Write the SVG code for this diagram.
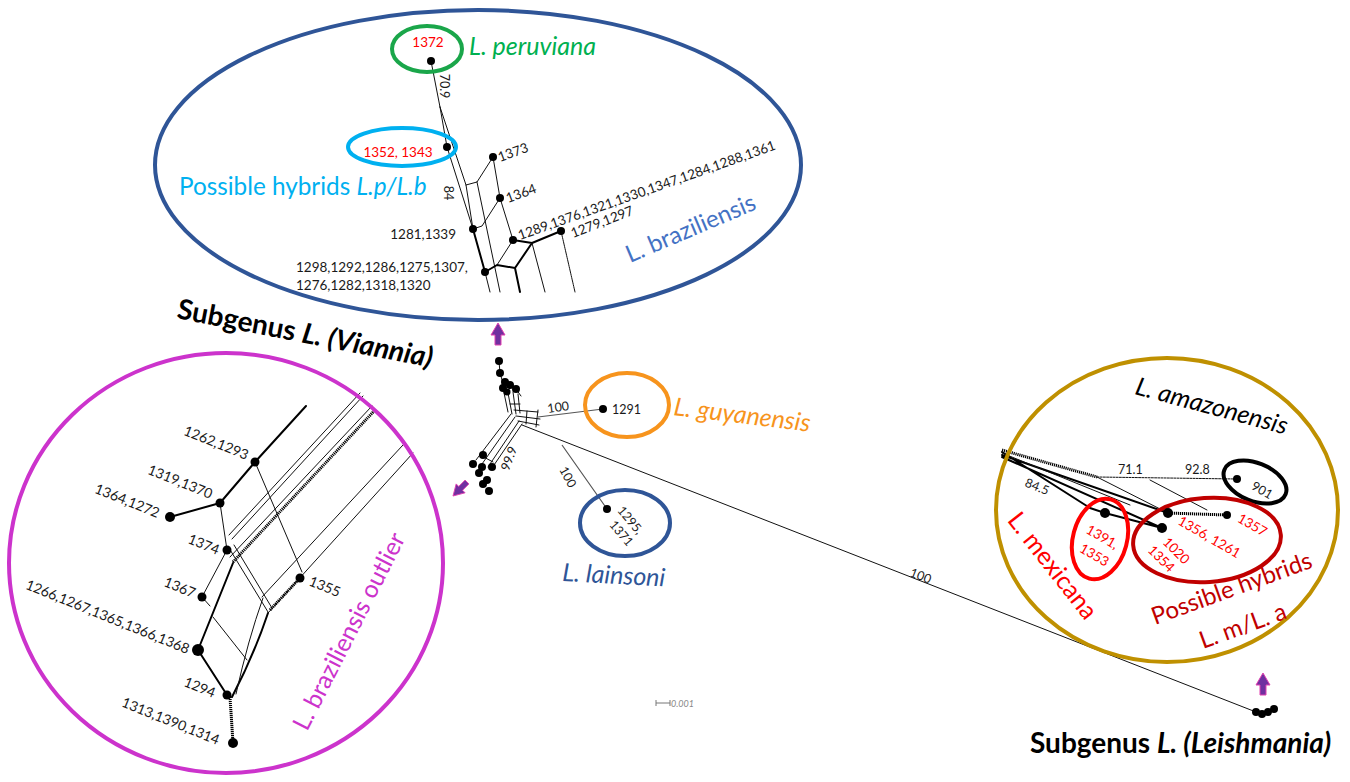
<svg xmlns="http://www.w3.org/2000/svg" width="1350" height="782" viewBox="0 0 1350 782">
<defs>
<style>
text{font-family:Lato,"Open Sans","Liberation Sans",sans-serif}
.n{font-size:13.5px;fill:#1a1a1a}
.nl{font-size:14px;fill:#1a1a1a}
.r{font-size:13.5px;fill:#ff0000}
.sm{font-size:12.5px;fill:#1a1a1a}
.big{font-size:25px}
.it{font-style:italic}
.bold{font-size:28px;font-weight:bold;fill:#000}
.e{fill:none;stroke:#111;stroke-width:1;stroke-linecap:round;stroke-linejoin:round}
.t{fill:none;stroke:#000;stroke-width:2;stroke-linecap:round;stroke-linejoin:round}
.h{fill:none;stroke:#000;stroke-width:3;stroke-dasharray:1.2 0.8}
.g{fill:none;stroke:#555;stroke-width:1.2}
.ring{fill:none;stroke-width:4}
.dot{fill:#000}
.arr{fill:#7030a0;stroke:#e040b0;stroke-width:1}
</style>
<polygon id="arrow" points="-3,11 3,11 3,1 7,1 0,-11 -7,1 -3,1"/>
</defs>
<rect width="1350" height="782" fill="#fff"/>

<g id="connectors">
  <!-- top (Viannia inset) network -->
  <path class="e" d="M431,61 L440,107 M440,107 L447,147 L473,229 M440,107 L466,185 L473,229 M466,185 L477,182 L493,157 M477,182 L500,292 M493,157 L500,198 L513,240 M500,198 L482,226 L473,229 M497,265 L513,240 M485,272 L490,292 M532,243 L545,292"/>
  <path class="t" d="M473,229 L485,272 L497,265 L515,268 L532,243 L561,231 M532,243 L513,240 M515,268 L520,292"/>
  <path class="e" stroke-width="2" d="M561,231 L575,292" style="stroke-dasharray:1.5 0.8"/>
  <!-- central network -->
  <path class="e" d="M499,361 L500,373 L503,383 L507,392 M505,382 L510,385 L516,389 M503,388 L508,412 M508,393 L512,414 M513,392 L516,414 M518,394 L520,413 M516,389 L521,396 M510,404 L520,404"/>
  <path class="e" d="M514,410 L538,412 M516,416 L540,419 M518,421 L539,425 M538,410 L536,427 M527,411 L526,424"/>
  <path class="e" d="M511,414 L476,460 M515,417 L482,464 M519,421 L488,467 M522,424 L492,468 M480,455 L493,462"/>
  <path class="e" stroke-width="1.6" d="M522,425 L1256,712"/>
  <path class="g" d="M538,417 L603,409 M562,445 L607,509"/>
  <!-- right (Leishmania inset) network -->
  <path class="h" d="M1002,450 L1097,477"/>
  <path class="t" stroke-width="1.6" d="M1002,452 L1090,508 L1105,513 M1002,455 L1168,513 M1002,457 L1162,528 M1105,513 L1162,528"/>
  <path class="e" d="M1097,477 L1168,513 M1150,480 L1207,510 M1002,453 L1130,505"/>
  <path class="e" d="M1097,477 L1237,479" style="stroke-dasharray:2 1.2"/>
  <path class="h" stroke-width="2.5" d="M1168,513 L1227,515"/>
  <!-- left (outlier inset) network -->
  <path class="t" d="M306,406 L255,462 L220,503 L170,517"/>
  <path class="e" stroke-width="1.3" d="M220,503 L227,550"/>
  <path class="e" stroke-width="0.9" d="M255,462 L302,572"/>
  <path class="e" d="M229,535 L360,393 M232,539 L363,396"/>
  <path class="h" d="M233,562 L375,410"/>
  <path class="e" d="M230,557 L372,406"/>
  <path class="e" stroke-width="1.3" d="M229,548 L268,612 M234,545 L272,608"/>
  <path class="e" d="M262,597 L403,445"/>
  <path class="e" stroke-width="1.8" d="M268,613 L413,453"/>
  <path class="h" d="M270,610 L300,578"/>
  <path class="t" stroke-width="2.2" d="M268,613 Q254,655 232,697"/>
  <path class="e" d="M263,598 Q248,640 236,694 M213,617 L247,660"/>
  <path class="t" stroke-width="3" d="M233,563 L198,650"/>
  <path class="e" d="M227,550 L202,597 L210,606"/>
  <path class="t" d="M198,650 L227,695"/>
  <path class="h" stroke-width="2.5" d="M230,697 L233,743"/>
</g>

<g id="viannia-inset">
  <ellipse class="ring" cx="478" cy="165" rx="323" ry="155" stroke="#2f5597"/>
  <g id="node-1372">
    <ellipse class="ring" cx="427" cy="49" rx="35" ry="23" stroke="#1aa64a" stroke-width="3.5"/>
    <text class="r" x="428" y="47" text-anchor="middle">1372</text>
    <circle class="dot" cx="431" cy="61" r="4"/>
    <text class="big it" x="469" y="55" fill="#00b050">L. peruviana</text>
  </g>
  <g id="node-1352">
    <ellipse class="ring" cx="402" cy="147" rx="54" ry="19" stroke="#00b0f0" stroke-width="3.5"/>
    <text class="r" x="398" y="157" text-anchor="middle">1352, 1343</text>
    <circle class="dot" cx="447" cy="147" r="4"/>
    <text x="179" y="195" font-size="24.3" fill="#00b0f0">Possible hybrids <tspan class="it">L.p/L.b</tspan></text>
  </g>
  <text class="sm" transform="translate(440,86) rotate(90)" text-anchor="middle">70.9</text>
  <text class="sm" transform="translate(444,193) rotate(90)" text-anchor="middle">84</text>
  <g id="node-1373"><circle class="dot" cx="493" cy="157" r="4"/><text class="n" transform="translate(500,162) rotate(-20)">1373</text></g>
  <g id="node-1364"><circle class="dot" cx="500" cy="198" r="4"/><text class="n" transform="translate(508,203) rotate(-20)">1364</text></g>
  <g id="node-1281"><circle class="dot" cx="473" cy="229" r="4"/><text class="n" x="456" y="239" text-anchor="end">1281,1339</text></g>
  <g id="node-1289"><circle class="dot" cx="513" cy="240" r="4"/><text class="n" transform="translate(520,240) rotate(-19.5)">1289,1376,1321,1330,1347,1284,1288,1361</text></g>
  <g id="node-1279"><circle class="dot" cx="561" cy="231" r="4"/><text class="n" transform="translate(573,238) rotate(-21)">1279,1297</text></g>
  <g id="node-1298"><circle class="dot" cx="485" cy="272" r="4"/>
    <text class="n" x="296" y="272">1298,1292,1286,1275,1307,</text>
    <text class="n" x="296" y="290">1276,1282,1318,1320</text></g>
  <text transform="translate(630,263) rotate(-23)" font-size="24" fill="#4472c4">L. braziliensis</text>
</g>

<g id="center-network">
  <g fill="#000">
    <circle cx="499" cy="361" r="4"/><circle cx="500" cy="373" r="4"/><circle cx="505" cy="382" r="4"/>
    <circle cx="503" cy="388" r="4"/><circle cx="510" cy="385" r="4"/><circle cx="516" cy="389" r="4"/>
    <circle cx="507" cy="392" r="3.5"/>
    <circle cx="483" cy="455" r="4"/><circle cx="473" cy="464" r="4"/><circle cx="482" cy="467" r="4"/>
    <circle cx="492" cy="467" r="4"/><circle cx="479" cy="473" r="4"/><circle cx="487" cy="480" r="4"/>
    <circle cx="483" cy="484" r="4"/><circle cx="489" cy="491" r="4"/>
  </g>
  <text class="sm" transform="translate(513,460) rotate(-70)" text-anchor="middle">99.9</text>
  <text class="sm" transform="translate(909,576) rotate(21)">100</text>
  <use href="#arrow" class="arr" transform="translate(498,334)"/>
  <use href="#arrow" class="arr" transform="translate(460,489) rotate(-135) scale(0.9)"/>
</g>

<g id="node-1291">
  <ellipse class="ring" cx="627" cy="405" rx="42" ry="32" stroke="#f7941d" stroke-width="3.5"/>
  <circle class="dot" cx="603" cy="409" r="4"/>
  <text class="sm" x="612" y="414">1291</text>
  <text class="sm" transform="translate(548,413) rotate(-8)">100</text>
  <text class="big it" transform="translate(673,415) rotate(7)" fill="#f7941d">L. guyanensis</text>
</g>

<g id="node-1295">
  <ellipse class="ring" cx="625" cy="523" rx="45" ry="33" stroke="#2f5597" stroke-width="2.5"/>
  <circle class="dot" cx="607" cy="509" r="4"/>
  <text class="sm" transform="translate(627,523) rotate(50)" text-anchor="middle">1295,</text>
  <text class="sm" transform="translate(618,536) rotate(50)" text-anchor="middle">1371</text>
  <text class="sm" transform="translate(564,479) rotate(62)" text-anchor="middle">100</text>
  <text class="big it" transform="translate(562,581) rotate(3)" fill="#2f5597">L. lainsoni</text>
</g>

<g id="outlier-inset">
  <ellipse class="ring" cx="226" cy="563" rx="217" ry="210" stroke="#cc33cc"/>
  <g fill="#000">
    <circle cx="255" cy="462" r="4.5"/><circle cx="220" cy="503" r="4.5"/><circle cx="170" cy="517" r="5"/>
    <circle cx="227" cy="550" r="4.5"/><circle cx="202" cy="597" r="4.5"/><circle cx="198" cy="650" r="6"/>
    <circle cx="227" cy="695" r="4.5"/><circle cx="233" cy="743" r="5"/><circle cx="300" cy="578" r="4.5"/>
  </g>
  <text class="nl" transform="translate(246,460) rotate(22)" text-anchor="end">1262,1293</text>
  <text class="nl" transform="translate(210,499) rotate(22)" text-anchor="end">1319,1370</text>
  <text class="nl" transform="translate(157,518) rotate(22)" text-anchor="end">1364,1272</text>
  <text class="nl" transform="translate(217,555) rotate(22)" text-anchor="end">1374</text>
  <text class="nl" transform="translate(193,598) rotate(22)" text-anchor="end">1367</text>
  <text class="nl" transform="translate(187,654) rotate(22)" text-anchor="end">1266,1267,1365,1366,1368</text>
  <text class="nl" transform="translate(213,698) rotate(22)" text-anchor="end">1294</text>
  <text class="nl" transform="translate(217,745) rotate(22)" text-anchor="end">1313,1390,1314</text>
  <text class="nl" transform="translate(308,585) rotate(22)">1355</text>
  <text transform="translate(307,732) rotate(-63)" font-size="24.5" fill="#cc33cc">L. braziliensis outlier</text>
</g>

<g id="leishmania-inset">
  <ellipse class="ring" cx="1167" cy="510" rx="171" ry="152" stroke="#bf9000"/>
  <text class="big it" transform="translate(1134,394) rotate(15)" fill="#000">L. amazonensis</text>
  <text class="sm" x="1118" y="474">71.1</text>
  <text class="sm" x="1185" y="474">92.8</text>
  <text class="sm" transform="translate(1024,486) rotate(22)">84.5</text>
  <g id="node-901">
    <ellipse class="ring" cx="0" cy="0" rx="33" ry="19" stroke="#000" stroke-width="3" transform="translate(1255,482) rotate(22)"/>
    <circle class="dot" cx="1237" cy="479" r="4"/>
    <text class="sm" transform="translate(1260,494) rotate(30)" text-anchor="middle">901</text>
  </g>
  <g id="node-1391">
    <ellipse class="ring" cx="0" cy="0" rx="27" ry="41" stroke="#ff0000" stroke-width="3" transform="translate(1100,539) rotate(15)"/>
    <circle class="dot" cx="1105" cy="513" r="5"/>
    <text class="r" transform="translate(1100,541) rotate(30)" text-anchor="middle">1391,</text>
    <text class="r" transform="translate(1092,559) rotate(30)" text-anchor="middle">1353</text>
    <text transform="translate(1046,571) rotate(52)" text-anchor="middle" font-size="25" fill="#ff0000">L. mexicana</text>
  </g>
  <g id="node-hybrids">
    <ellipse class="ring" cx="0" cy="0" rx="74" ry="42" stroke="#c00000" stroke-width="3" transform="translate(1207,540) rotate(-4)"/>
    <circle class="dot" cx="1168" cy="513" r="5"/>
    <circle class="dot" cx="1162" cy="528" r="5"/>
    <circle class="dot" cx="1227" cy="515" r="4"/>
    <text class="r" transform="translate(1207,541) rotate(30)" text-anchor="middle">1356, 1261</text>
    <text class="r" transform="translate(1250,529) rotate(30)" text-anchor="middle">1357</text>
    <text class="r" transform="translate(1173,554) rotate(45)" text-anchor="middle">1020</text>
    <text class="r" transform="translate(1158,562) rotate(45)" text-anchor="middle">1354</text>
    <text transform="translate(1155,625) rotate(-20)" font-size="24" fill="#c00000">Possible hybrids</text>
    <text transform="translate(1203,649) rotate(-20)" font-size="24" fill="#c00000">L. m/L. a</text>
  </g>
  <use href="#arrow" class="arr" transform="translate(1263,684)"/>
  <g fill="#000"><circle cx="1256" cy="712" r="4"/><circle cx="1262" cy="714" r="4"/><circle cx="1268" cy="712" r="4"/><circle cx="1274" cy="709" r="4"/></g>
</g>

<g id="labels">
  <text class="bold" transform="translate(176,318) rotate(11)" font-size="26.5">Subgenus <tspan class="it">L. (Viannia)</tspan></text>
  <text class="bold" x="1030" y="753">Subgenus <tspan class="it">L. (Leishmania)</tspan></text>
  <path d="M656,700 V706 M656,703 H670 M670,700 V706" stroke="#777" stroke-width="1" fill="none"/>
  <text x="671" y="707" font-size="9" font-style="italic" fill="#888">0.001</text>
</g>
</svg>
